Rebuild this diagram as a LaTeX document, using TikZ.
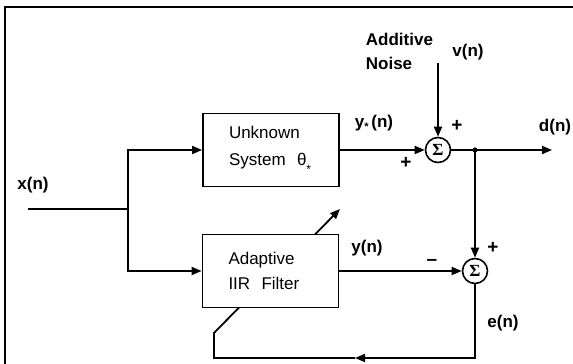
\documentclass[tikz,border=0pt]{standalone}
\usepackage{fontspec}
\setmainfont{Liberation Sans}
\newfontfamily\sigfont{Liberation Serif}
\usetikzlibrary{arrows.meta}
\begin{document}
\begin{tikzpicture}[x=1pt,y=-1pt, line width=1.8pt,
  >={Triangle[length=10pt,width=8pt]},
  blk/.style={draw, minimum width=136pt, minimum height=73pt, inner sep=0pt,
    align=left, text width=84pt, font=\fontsize{17}{27}\selectfont},
  sumn/.style={draw, circle, minimum size=25pt, inner sep=0pt, line width=1.6pt,
    font=\sigfont\bfseries\fontsize{17}{17}\selectfont},
  lbl/.style={inner sep=0pt, font=\fontsize{17}{18}\selectfont\bfseries},
  sgn/.style={inner sep=0pt, font=\fontsize{19}{19}\selectfont\bfseries}]
\useasboundingbox (0,0) rectangle (573,364);
% frame (top and left only)
\draw (573,7) -- (5,7) -- (5,364);
% blocks
\node[blk] (unk) at (271,150) {Unknown\\System~~θ\raisebox{-8pt}{\fontsize{12}{12}\selectfont *}};
\node[blk, font=\fontsize{17}{25}\selectfont] (adf) at (270.5,271) {Adaptive\\IIR~~Filter};
\node[sumn] (s1) at (438,150) {Σ};
\node[sumn] (s2) at (475,271) {Σ};
% coordinates
\coordinate (in) at (28,209);
\coordinate (br) at (128,209);
\coordinate (bt) at (128,150);
\coordinate (bb) at (128,271);
\coordinate (vn) at (438,63);
\coordinate (dn) at (552,150);
\coordinate (j) at (475,150);
\coordinate (c1) at (475,358);
\coordinate (c2) at (355,358);
\coordinate (c3) at (214,358);
\coordinate (c4) at (214,333);
\coordinate (c5) at (239,307.5);
\coordinate (a1) at (315,234.5);
\coordinate (a2) at (340,209);
% connectors
\draw (in) -- (br);
\draw[->] (br) -- (bt) -- (unk.west);
\draw[->] (br) -- (bb) -- (adf.west);
\draw[->] (unk.east) -- (s1.west);
\draw[->] (vn) -- (s1.north);
\draw[->] (s1.east) -- (dn);
\fill (j) circle (2.6pt);
\draw[->] (j) -- (s2.north);
\draw[->] (adf.east) -- (s2.west);
\draw[->] (s2.south) -- (c1) -- (c2);
\draw (c2) -- (c3) -- (c4) -- (c5);
\draw[->] (a1) -- (a2);
% labels
\node[lbl] (xn) at (33,185) {x(n)};
\node[lbl] (ys) at (374,123) {y\raisebox{-3pt}{\fontsize{11}{11}\selectfont *}\,(n)};
\node[lbl, anchor=west] (add) at (365,39) {Additive};
\node[lbl, anchor=west] (noi) at (365,63) {Noise};
\node[lbl] (vlab) at (468,52) {v(n)};
\node[sgn] (p1) at (457,126) {+};
\node[sgn] (p2) at (406,163) {+};
\node[lbl] (dlab) at (555,127) {d(n)};
\node[lbl] (ylab) at (367,248) {y(n)};
\node[sgn] (mi) at (432,262) {\textendash};
\node[sgn] (p3) at (493,248) {+};
\node[lbl] (elab) at (503,323) {e(n)};
\end{tikzpicture}
\end{document}
